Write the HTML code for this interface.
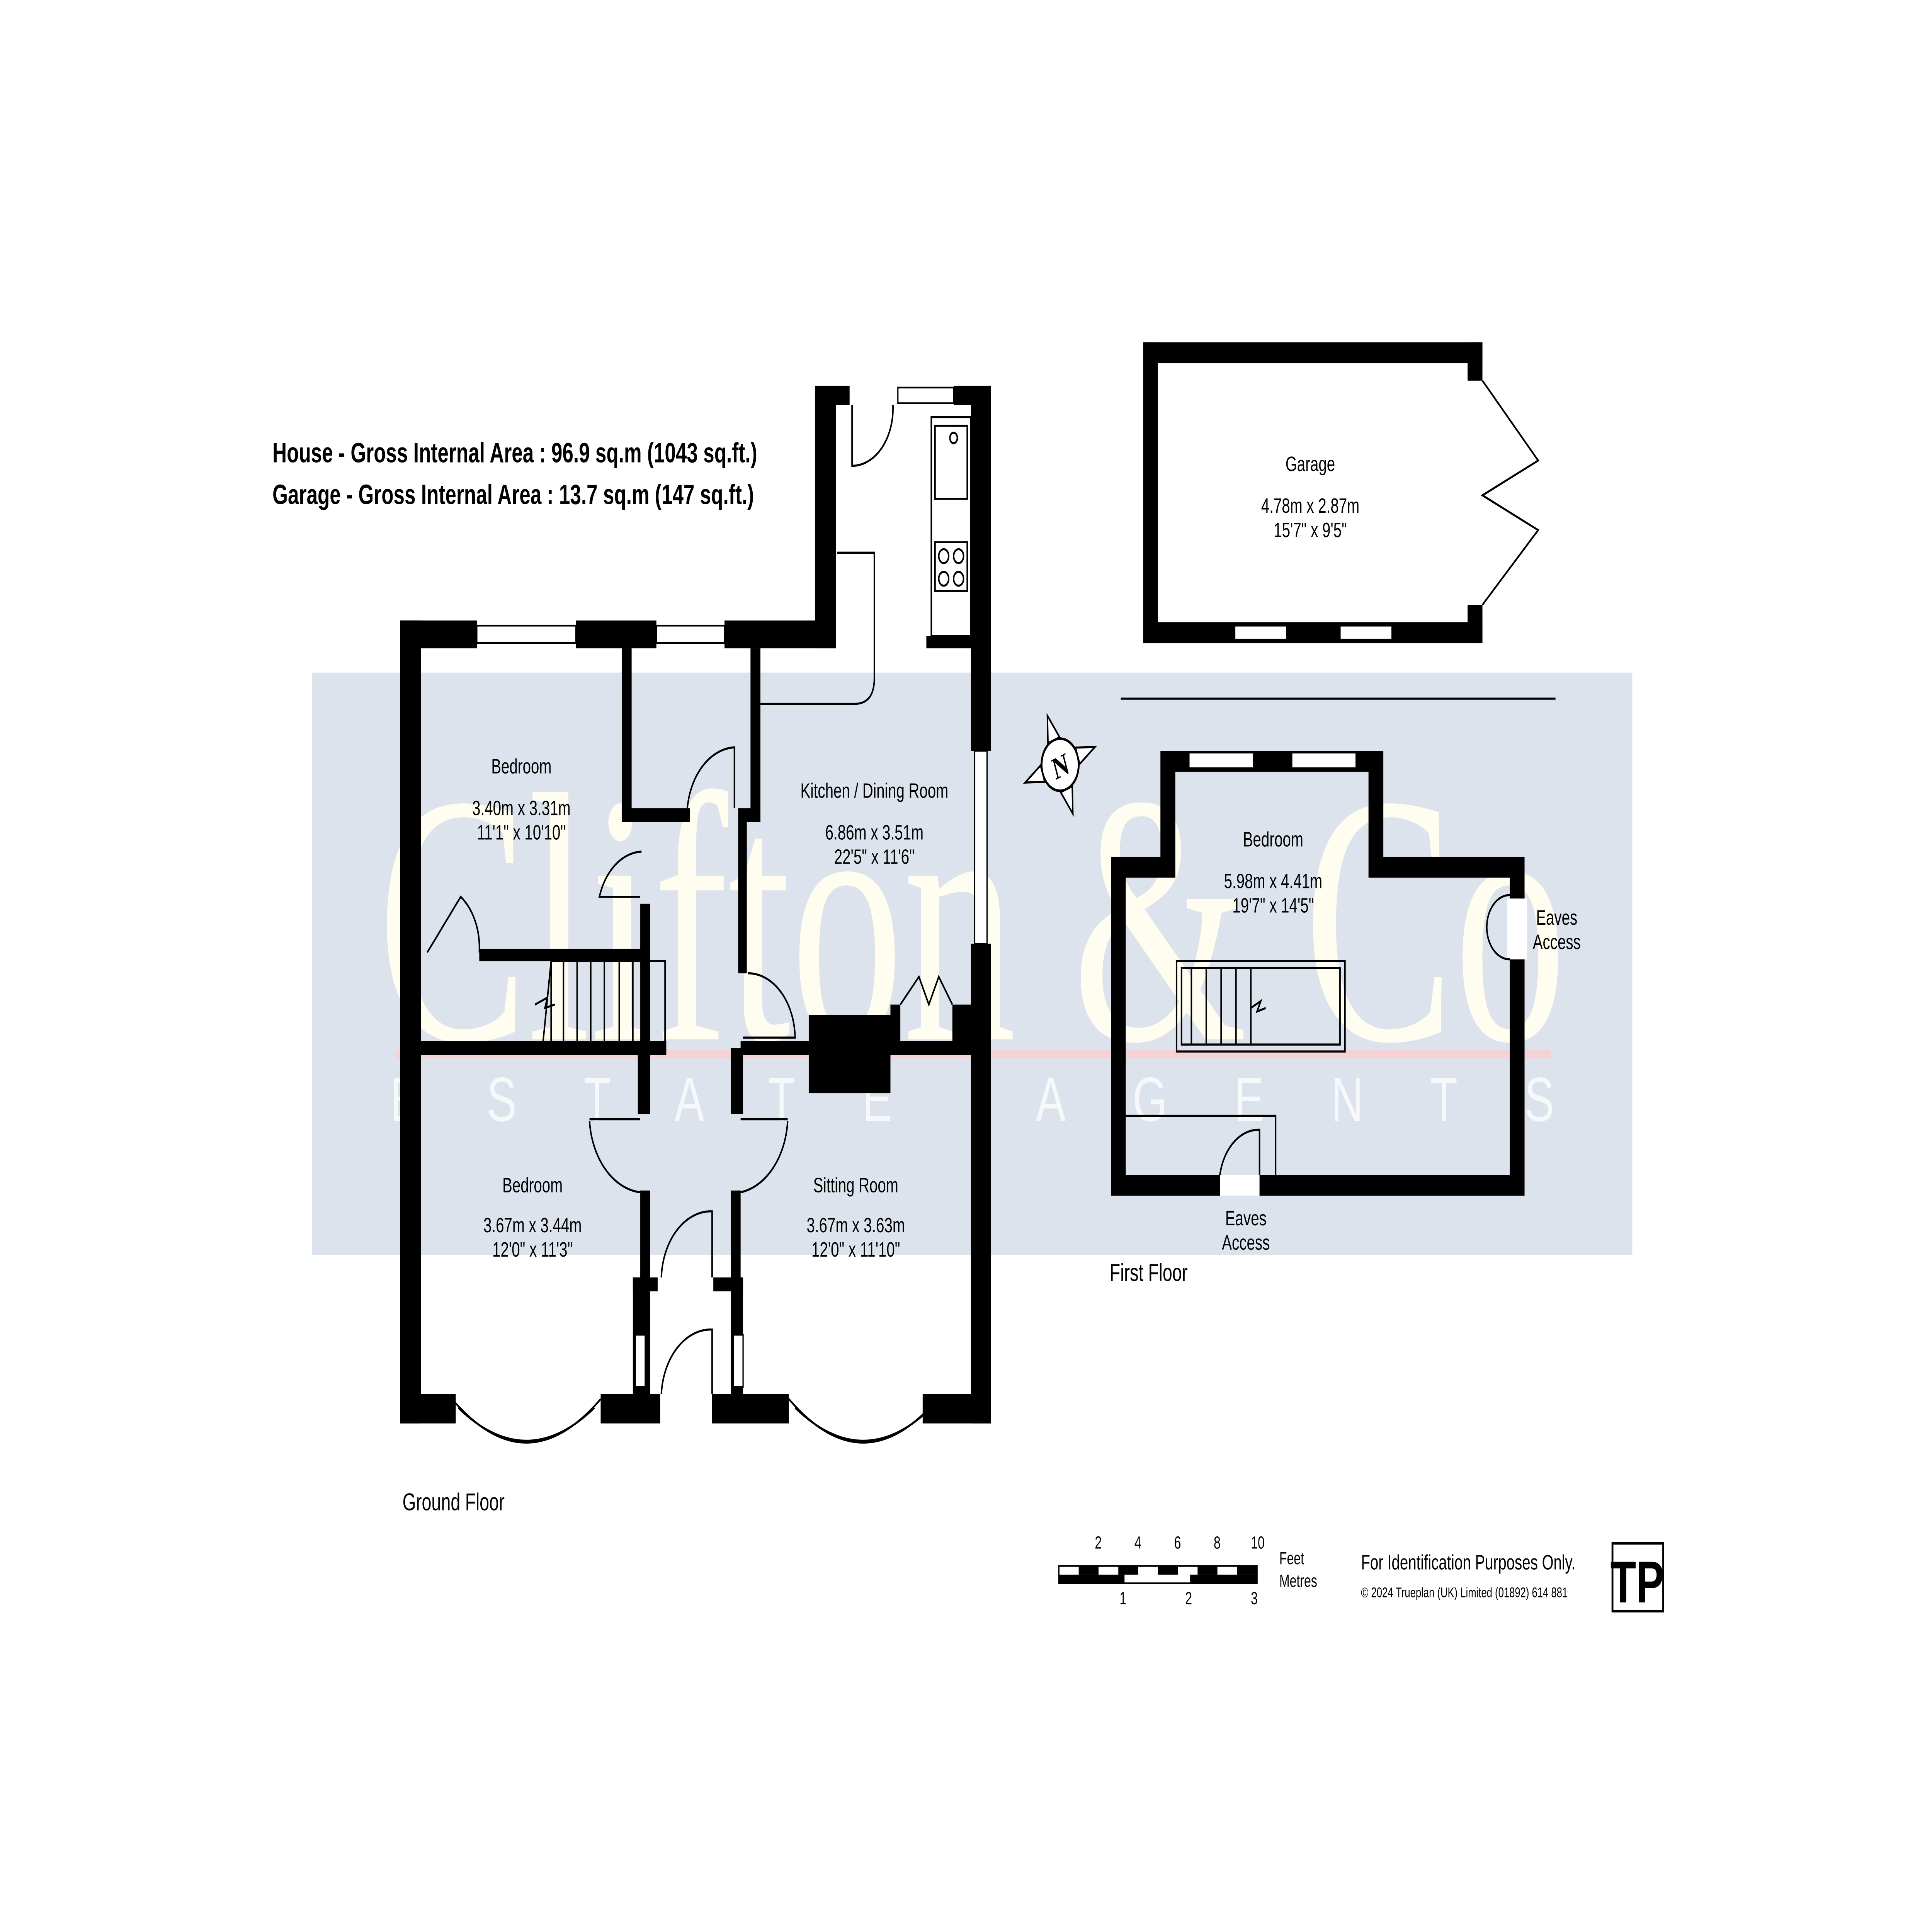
<!DOCTYPE html>
<html><head><meta charset="utf-8">
<style>
html,body{margin:0;padding:0;background:#fff;width:100%;height:100%;overflow:hidden;}
svg{display:block;position:absolute;left:0;top:0;width:100vw;height:100vh;}
text{font-family:"Liberation Sans",sans-serif;fill:#000;}
</style></head>
<body>
<svg viewBox="0 0 1560 1103" preserveAspectRatio="none" xmlns="http://www.w3.org/2000/svg">
<rect width="1560" height="1103" fill="#fff"/>
<rect x="252" y="387" width="1066" height="335" fill="#dde3ec"/>
<text x="785" y="598" text-anchor="middle" font-size="205" style="font-family:'Liberation Serif',serif;fill:#fffdf0" textLength="960" lengthAdjust="spacingAndGlyphs">Clifton &amp; Co</text>
<rect x="320" y="604" width="932" height="5" fill="#f4d2d6"/>
<text x="785" y="645" text-anchor="middle" font-size="36" style="fill:#f7f8fa" textLength="940" lengthAdjust="spacing">ESTATE AGENTS</text>

<text x="220" y="266" font-size="16" font-weight="bold">House - Gross Internal Area  :  96.9 sq.m   (1043 sq.ft.)</text>
<text x="220" y="290" font-size="16" font-weight="bold">Garage - Gross Internal Area  :  13.7 sq.m   (147 sq.ft.)</text>

<g fill="#000">
<rect x="323" y="357" width="17" height="462"/>
<rect x="323" y="357" width="62" height="16"/>
<rect x="465" y="357" width="65" height="16"/>
<rect x="585" y="357" width="90" height="16"/>
<rect x="658" y="222" width="17" height="151"/>
<rect x="658" y="222" width="28" height="11"/>
<rect x="770" y="222" width="30" height="11"/>
<rect x="784" y="222" width="16" height="210"/>
<rect x="784" y="543" width="16" height="276"/>
<rect x="748" y="366" width="36" height="7"/>
<rect x="323" y="802" width="45" height="17"/>
<rect x="485" y="802" width="48" height="17"/>
<rect x="575" y="802" width="62" height="17"/>
<rect x="745" y="802" width="55" height="17"/>
<rect x="502" y="373" width="8" height="100"/>
<rect x="502" y="465" width="55" height="8"/>
<rect x="606" y="373" width="8" height="100"/>
<rect x="596" y="465" width="18" height="8"/>
<rect x="517" y="520" width="8" height="85"/>
<rect x="387" y="546" width="138" height="7"/>
<rect x="596" y="473" width="7" height="87"/>
<rect x="340" y="599" width="198" height="8"/>
<rect x="598" y="599" width="186" height="8"/>
<rect x="590" y="603" width="10" height="38"/>
<rect x="515" y="603" width="10" height="38"/>
<rect x="653" y="584" width="66" height="45"/>
<rect x="719" y="578" width="8" height="22"/>
<rect x="769" y="578" width="15" height="22"/>
<rect x="517" y="685" width="8" height="120"/>
<rect x="511" y="735" width="20" height="8"/>
<rect x="511" y="735" width="10" height="67"/>
<rect x="590" y="685" width="8" height="120"/>
<rect x="576" y="735" width="24" height="8"/>
<rect x="590" y="735" width="10" height="67"/>
</g>
<g fill="#fff" stroke="#000" stroke-width="1">
<rect x="385" y="360" width="80" height="10"/>
<rect x="530" y="360" width="55" height="10"/>
<rect x="725" y="223" width="45" height="9"/>
<rect x="787" y="432" width="10" height="111"/>
<rect x="513" y="768" width="8" height="30"/>
<rect x="592" y="768" width="8" height="30"/>
</g>
<g fill="none" stroke="#000" stroke-width="1.2">
<path d="M365 805 Q425 855 485 805"/><path d="M370 810 Q425 848 480 810"/>
<path d="M637 805 Q697 855 757 805"/><path d="M642 810 Q697 848 752 810"/>
<path d="M688 233 V268 A33 33 0 0 0 721 233"/>
<path d="M555 465 A40 40 0 0 1 593 430 V465"/>
<path d="M518 490 A37 37 0 0 0 484 516 H517"/>
<path d="M604 560 A38 38 0 0 1 642 597 H600"/>
<path d="M345 548 L372 516 A36 36 0 0 1 387 548"/>
<path d="M476 645 A45 45 0 0 0 517 686"/><line x1="476" y1="644" x2="517" y2="644"/>
<path d="M636 645 A45 45 0 0 1 598 686"/><line x1="598" y1="644" x2="636" y2="644"/>
<path d="M534 735 A40 40 0 0 1 575 697 V735"/>
<path d="M534 802 A40 40 0 0 1 575 765 V802"/>
<path d="M727 578 L742 562 L750 578 L758 562 L769 578"/>
<rect x="445" y="553" width="92" height="47"/>
<line x1="455" y1="553" x2="455" y2="600"/><line x1="466" y1="553" x2="466" y2="600"/>
<line x1="477" y1="553" x2="477" y2="600"/><line x1="488" y1="553" x2="488" y2="600"/>
<line x1="500" y1="553" x2="500" y2="600"/><line x1="511" y1="553" x2="511" y2="600"/>
<line x1="524" y1="553" x2="524" y2="600"/>
<path d="M445 553 L438 603 M432 578 L442 574 L440 580 L448 578"/>
<path d="M676 318 H706 V390 Q706 405 690 405 H614"/>
<rect x="752" y="240" width="32" height="126"/>
<rect x="755" y="245" width="26" height="42"/>
<circle cx="770" cy="252" r="3"/>
<rect x="755" y="312" width="26" height="28"/>
<circle cx="762" cy="320" r="4"/><circle cx="774" cy="320" r="4"/>
<circle cx="762" cy="333" r="4"/><circle cx="774" cy="333" r="4"/>
</g>
<g transform="translate(856,440) rotate(-20)">
<circle r="15" fill="#fff" stroke="#000" stroke-width="1.5"/>
<path d="M0 -30 L5 -15 L-5 -15 Z M0 30 L5 15 L-5 15 Z M-30 0 L-15 -5 L-15 5 Z M30 0 L15 -5 L15 5 Z" fill="#fff" stroke="#000" stroke-width="1.2"/>
<text x="0" y="7" font-size="18" font-weight="bold" text-anchor="middle" style="font-family:'Liberation Serif',serif">N</text>
</g>

<g fill="#000">
<rect x="923" y="197" width="274" height="12"/>
<rect x="923" y="358" width="274" height="12"/>
<rect x="923" y="197" width="12" height="173"/>
<rect x="1185" y="197" width="12" height="22"/>
<rect x="1185" y="348" width="12" height="22"/>
</g>
<g fill="#fff" stroke="#000" stroke-width="1">
<rect x="997" y="360" width="42" height="8"/>
<rect x="1082" y="360" width="42" height="8"/>
</g>
<path d="M1197 219 L1242 265 L1197 285 L1242 305 L1197 348" fill="none" stroke="#000" stroke-width="1.2"/>

<line x1="905" y1="402" x2="1256" y2="402" stroke="#000" stroke-width="1.2"/>
<path d="M903 499 H943 V438 H1111 V499 H1225 V682 H903 Z" fill="none" stroke="#000" stroke-width="12"/>
<g fill="#fff" stroke="#000" stroke-width="1">
<rect x="960" y="433" width="52" height="9"/>
<rect x="1043" y="433" width="52" height="9"/>
</g>
<rect x="1217" y="517" width="16" height="35" fill="#fff"/>
<g fill="none" stroke="#000" stroke-width="1.2">
<path d="M1219 515 A18 18 0 0 0 1219 552"/>
<path d="M909 642 H1030 V676"/>
<path d="M985 676 A32 32 0 0 1 1017 650 V676"/>
<rect x="950" y="553" width="136" height="52"/>
<rect x="954" y="557" width="128" height="44"/>
<line x1="962" y1="557" x2="962" y2="601"/><line x1="974" y1="557" x2="974" y2="601"/>
<line x1="986" y1="557" x2="986" y2="601"/><line x1="998" y1="557" x2="998" y2="601"/>
<line x1="1010" y1="557" x2="1010" y2="601"/>
<path d="M1010 580 L1018 576 L1015 582 L1022 580"/>
</g>
<rect x="985" y="676" width="32" height="12" fill="#fff"/>

<g font-size="12" text-anchor="middle">
<text x="421" y="445">Bedroom</text>
<text x="421" y="469">3.40m  x  3.31m</text>
<text x="421" y="483">11'1"  x  10'10"</text>
<text x="706" y="459">Kitchen / Dining Room</text>
<text x="706" y="483">6.86m  x  3.51m</text>
<text x="706" y="497">22'5"  x  11'6"</text>
<text x="430" y="686">Bedroom</text>
<text x="430" y="709">3.67m  x  3.44m</text>
<text x="430" y="723">12'0"  x  11'3"</text>
<text x="691" y="686">Sitting Room</text>
<text x="691" y="709">3.67m  x  3.63m</text>
<text x="691" y="723">12'0"  x  11'10"</text>
<text x="1058" y="271">Garage</text>
<text x="1058" y="295">4.78m  x  2.87m</text>
<text x="1058" y="309">15'7"  x  9'5"</text>
<text x="1028" y="487">Bedroom</text>
<text x="1028" y="511">5.98m  x  4.41m</text>
<text x="1028" y="525">19'7"  x  14'5"</text>
<text x="1257" y="532">Eaves</text>
<text x="1257" y="546">Access</text>
<text x="1006" y="705">Eaves</text>
<text x="1006" y="719">Access</text>
</g>
<text x="896" y="737" font-size="14">First Floor</text>
<text x="325" y="869" font-size="14">Ground Floor</text>

<g style="font-family:'Liberation Serif',serif" font-size="10">
<text x="884" y="891">2</text><text x="916" y="891">4</text><text x="948" y="891">6</text><text x="980" y="891">8</text><text x="1010" y="891">10</text>
<text x="904" y="923">1</text><text x="957" y="923">2</text><text x="1010" y="923">3</text>
<text x="1033" y="900">Feet</text><text x="1033" y="913">Metres</text>
</g>
<rect x="855" y="901" width="160" height="10" fill="#fff" stroke="#000" stroke-width="1"/>
<g fill="#000">
<rect x="871" y="901" width="16" height="5"/><rect x="903" y="901" width="16" height="5"/><rect x="935" y="901" width="16" height="5"/><rect x="967" y="901" width="16" height="5"/><rect x="999" y="901" width="16" height="5"/>
<rect x="855" y="906" width="53" height="5"/><rect x="961" y="906" width="54" height="5"/>
</g>
<text x="1099" y="903" font-size="12">For Identification Purposes Only.</text>
<text x="1099" y="919" font-size="8">© 2024 Trueplan (UK) Limited  (01892) 614 881</text>
<rect x="1302" y="888" width="41" height="39" fill="#fff" stroke="#000" stroke-width="1.5"/>
<text x="1322" y="922" font-size="34" font-weight="bold" text-anchor="middle">TP</text>
</svg>
</body></html>
